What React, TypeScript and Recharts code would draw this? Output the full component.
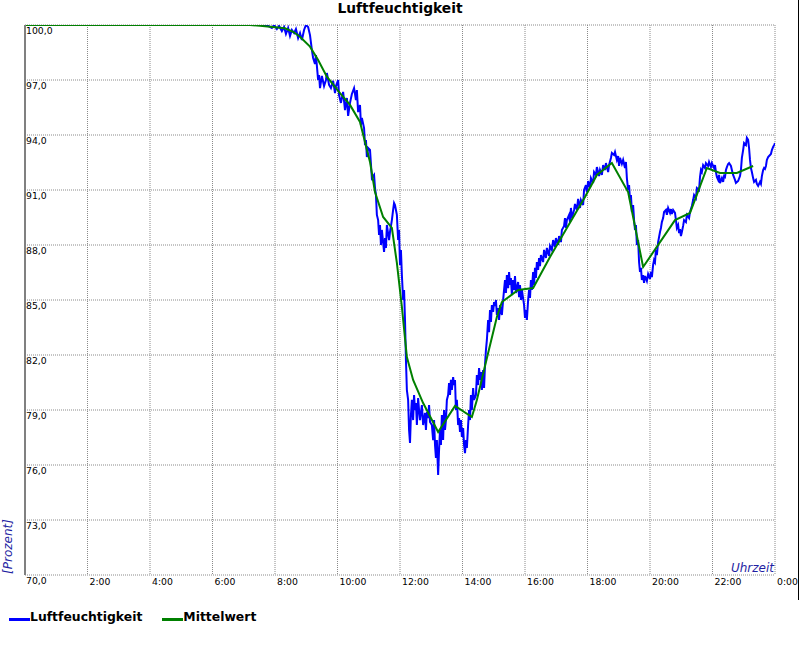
import { LineChart, Line, XAxis, YAxis, CartesianGrid, Legend, Label } from 'recharts';

// Stunden-Ticks der Zeitachse und Prozent-Ticks der Werteachse
const stundenTicks = [0, 2, 4, 6, 8, 10, 12, 14, 16, 18, 20, 22, 24];
const prozentTicks = [70, 73, 76, 79, 82, 85, 88, 91, 94, 97, 100];

// Messwerte Luftfeuchtigkeit: [Stunde, Prozent]
const luftfeuchtigkeit: [number, number][] = [
  [0, 100], [7.2, 100], [7.58, 100], [7.78, 99.95], [7.9, 99.84], [7.97, 100], [8.06, 99.78], [8.13, 99.95],
  [8.22, 99.67], [8.29, 99.89], [8.35, 99.51], [8.42, 99.84], [8.48, 99.4], [8.54, 99.73], [8.61, 99.56],
  [8.67, 99.78], [8.74, 99.29], [8.8, 99.56], [8.86, 99.18], [8.93, 99.73], [8.99, 100], [9.06, 99.89],
  [9.12, 99.45], [9.18, 98.64], [9.22, 98.2], [9.28, 97.87], [9.31, 98.36], [9.38, 97.0], [9.41, 97.27],
  [9.44, 96.56], [9.5, 97.22], [9.57, 96.67], [9.63, 97.0], [9.66, 97.38], [9.73, 96.73], [9.79, 96.56],
  [9.86, 96.95], [9.92, 96.29], [9.95, 96.67], [10.02, 97.0], [10.05, 96.18], [10.11, 95.75], [10.18, 96.35],
  [10.24, 95.36], [10.3, 96.02], [10.34, 95.04], [10.4, 95.75], [10.46, 96.24], [10.53, 96.56], [10.59, 95.91],
  [10.62, 96.45], [10.66, 95.25], [10.72, 95.64], [10.75, 94.55], [10.78, 94.93], [10.85, 94.38], [10.88, 93.45],
  [10.91, 93.73], [10.94, 92.8], [10.98, 93.29], [11.04, 93.18], [11.1, 91.65], [11.17, 91.82], [11.2, 91.11],
  [11.23, 90.73], [11.26, 89.64], [11.3, 89.36], [11.33, 88.55], [11.36, 89.09], [11.39, 88.0], [11.42, 88.82],
  [11.49, 87.62], [11.52, 88.38], [11.55, 87.84], [11.58, 89.09], [11.65, 88.27], [11.68, 88.71], [11.74, 89.36],
  [11.78, 89.91], [11.81, 90.29], [11.84, 90.18], [11.9, 89.64], [11.94, 88.27], [11.97, 88.82], [12.0, 86.91],
  [12.03, 87.73], [12.06, 86.36], [12.1, 85.0], [12.13, 85.55], [12.16, 83.91], [12.19, 81.73], [12.22, 80.09],
  [12.26, 79.55], [12.29, 77.91], [12.32, 77.2], [12.35, 78.73], [12.38, 79.55], [12.42, 78.45], [12.45, 79.82],
  [12.48, 79.0], [12.51, 79.38], [12.54, 78.18], [12.58, 79.65], [12.61, 79.0], [12.64, 78.45], [12.7, 79.27],
  [12.74, 78.18], [12.8, 78.84], [12.83, 77.91], [12.86, 78.89], [12.9, 78.56], [12.93, 79.27], [12.96, 78.35],
  [13.02, 78.18], [13.06, 77.36], [13.09, 78.45], [13.12, 77.09], [13.15, 76.38], [13.18, 77.36], [13.22, 75.45],
  [13.25, 76.82], [13.28, 77.91], [13.31, 77.09], [13.34, 78.73], [13.38, 77.36], [13.41, 79.0], [13.44, 77.91],
  [13.47, 78.45], [13.5, 79.55], [13.54, 79.82], [13.57, 80.47], [13.6, 79.82], [13.63, 80.64], [13.66, 80.09],
  [13.7, 80.8], [13.73, 80.36], [13.76, 80.64], [13.79, 79.0], [13.82, 79.55], [13.86, 78.18], [13.89, 78.56],
  [13.92, 77.8], [13.95, 78.45], [13.98, 77.53], [14.02, 78.02], [14.05, 77.09], [14.08, 76.65], [14.11, 77.36],
  [14.14, 76.93], [14.18, 78.18], [14.21, 79.0], [14.24, 78.45], [14.27, 79.82], [14.3, 79.0], [14.34, 80.2],
  [14.37, 79.55], [14.43, 79.82], [14.46, 80.91], [14.5, 80.36], [14.53, 81.29], [14.56, 80.64], [14.59, 81.07],
  [14.62, 80.09], [14.66, 81.18], [14.69, 80.2], [14.72, 81.45], [14.75, 82.27], [14.78, 82.82], [14.82, 83.91],
  [14.85, 83.25], [14.88, 84.45], [14.91, 83.8], [14.94, 84.73], [14.98, 84.35], [15.01, 84.89], [15.04, 84.67],
  [15.07, 85.0], [15.1, 84.18], [15.14, 84.56], [15.17, 83.91], [15.2, 84.73], [15.26, 84.18], [15.3, 85.0],
  [15.33, 85.55], [15.36, 86.09], [15.39, 85.38], [15.42, 86.36], [15.46, 85.65], [15.49, 86.53], [15.52, 85.82],
  [15.55, 86.2], [15.58, 85.27], [15.62, 86.09], [15.65, 85.55], [15.68, 86.31], [15.71, 85.38], [15.78, 85.98],
  [15.81, 85.16], [15.84, 85.82], [15.87, 85.0], [15.9, 85.55], [15.97, 84.73], [16.0, 84.02], [16.03, 84.45],
  [16.06, 83.91], [16.1, 85.0], [16.13, 85.55], [16.16, 85.11], [16.19, 86.09], [16.22, 85.55], [16.26, 86.53],
  [16.29, 85.82], [16.32, 86.75], [16.35, 86.2], [16.38, 87.07], [16.42, 86.64], [16.45, 87.29], [16.48, 86.85],
  [16.51, 87.45], [16.58, 87.07], [16.61, 87.73], [16.67, 87.29], [16.7, 87.84], [16.77, 87.4], [16.8, 87.95],
  [16.86, 87.73], [16.9, 88.27], [16.96, 87.89], [16.99, 88.38], [17.06, 88.0], [17.09, 88.49], [17.15, 88.16],
  [17.18, 88.82], [17.25, 89.04], [17.28, 89.47], [17.31, 88.93], [17.34, 89.36], [17.41, 89.64], [17.44, 89.25],
  [17.47, 90.02], [17.5, 89.47], [17.57, 89.91], [17.6, 90.24], [17.66, 89.91], [17.7, 90.51], [17.76, 90.02],
  [17.79, 90.45], [17.86, 90.18], [17.89, 91.0], [17.95, 91.27], [17.98, 90.89], [18.02, 91.49], [18.08, 91.11],
  [18.11, 91.65], [18.18, 91.38], [18.21, 91.98], [18.27, 91.82], [18.3, 92.25], [18.37, 91.76], [18.4, 92.09],
  [18.46, 91.82], [18.5, 92.36], [18.56, 92.09], [18.59, 92.47], [18.66, 91.98], [18.69, 92.36], [18.75, 92.75],
  [18.78, 93.02], [18.85, 92.91], [18.88, 93.07], [18.94, 92.64], [18.98, 92.85], [19.01, 92.31], [19.04, 92.75],
  [19.1, 92.42], [19.14, 92.64], [19.2, 92.2], [19.23, 92.53], [19.26, 91.65], [19.3, 91.0], [19.33, 91.27],
  [19.36, 90.45], [19.39, 90.73], [19.42, 89.8], [19.46, 90.18], [19.49, 89.36], [19.52, 88.82], [19.55, 89.09],
  [19.58, 88.0], [19.62, 88.27], [19.65, 87.07], [19.68, 86.53], [19.71, 86.75], [19.74, 86.09], [19.78, 86.36],
  [19.81, 85.93], [19.84, 86.31], [19.9, 86.04], [19.94, 86.42], [20.0, 86.15], [20.03, 86.53], [20.06, 86.25],
  [20.1, 86.91], [20.13, 87.18], [20.16, 87.07], [20.19, 87.73], [20.22, 87.45], [20.26, 88.16], [20.32, 88.71],
  [20.35, 88.93], [20.38, 89.25], [20.42, 89.47], [20.45, 89.8], [20.51, 89.91], [20.54, 89.64], [20.58, 90.02],
  [20.64, 89.75], [20.67, 89.96], [20.7, 89.69], [20.74, 89.91], [20.8, 89.75], [20.83, 89.36], [20.86, 88.93],
  [20.9, 89.09], [20.93, 88.65], [20.96, 88.87], [20.99, 88.49], [21.02, 88.71], [21.06, 89.04], [21.09, 89.36],
  [21.15, 89.25], [21.18, 89.64], [21.25, 89.47], [21.28, 89.8], [21.34, 90.13], [21.38, 90.45], [21.41, 90.73],
  [21.47, 90.56], [21.5, 91.11], [21.57, 91.0], [21.6, 91.71], [21.63, 92.09], [21.66, 91.98], [21.7, 92.36],
  [21.76, 92.2], [21.79, 92.47], [21.86, 92.31], [21.89, 92.53], [21.95, 92.25], [21.98, 92.47], [22.05, 92.2],
  [22.08, 92.36], [22.11, 91.98], [22.14, 91.71], [22.18, 91.55], [22.21, 91.82], [22.24, 91.38], [22.3, 91.65],
  [22.34, 91.44], [22.37, 91.76], [22.4, 91.71], [22.43, 92.09], [22.46, 92.25], [22.5, 92.42], [22.53, 92.47],
  [22.59, 92.31], [22.62, 92.09], [22.66, 91.82], [22.72, 91.55], [22.75, 91.38], [22.82, 91.49], [22.88, 91.76],
  [22.91, 92.09], [22.94, 92.75], [22.98, 93.18], [23.01, 93.56], [23.07, 93.45], [23.1, 93.84], [23.14, 93.73],
  [23.17, 93.29], [23.2, 92.64], [23.23, 92.2], [23.26, 91.98], [23.3, 91.65], [23.33, 91.44], [23.39, 91.55],
  [23.42, 91.33], [23.46, 91.22], [23.52, 91.44], [23.55, 91.33], [23.58, 91.76], [23.62, 92.09], [23.65, 92.2],
  [23.68, 92.15], [23.71, 92.31], [23.74, 92.64], [23.78, 92.8], [23.84, 92.91], [23.87, 92.96], [23.9, 93.18],
  [23.94, 93.35], [23.97, 93.45], [24.0, 93.56],
];

// Gleitender Mittelwert: [Stunde, Prozent]
const mittelwert: [number, number][] = [
  [0, 100], [7.2, 100], [7.52, 99.96], [8.32, 99.82], [8.58, 99.63], [8.8, 99.36], [9.12, 98.82], [9.38, 98.09],
  [9.66, 97.18], [10.08, 96.29], [10.4, 95.64], [10.72, 94.71], [11.04, 92.53], [11.2, 90.89], [11.46, 89.53],
  [11.74, 88.93], [11.9, 87.02], [12.06, 84.62], [12.22, 81.89], [12.42, 80.64], [12.74, 79.38], [13.22, 77.8],
  [13.76, 79.22], [14.3, 78.62], [14.46, 79.55], [14.82, 82.11], [15.1, 84.07], [15.26, 84.89], [15.78, 85.55],
  [16.26, 85.65], [16.8, 87.35], [17.34, 88.93], [17.92, 90.62], [18.3, 91.82], [18.78, 92.47], [19.3, 90.89],
  [19.78, 86.8], [20.8, 89.36], [21.28, 89.75], [21.82, 92.2], [22.24, 91.93], [22.78, 91.93], [23.3, 92.31],
];

const feuchteData = luftfeuchtigkeit.map(([h, v]) => ({ h, v }));
const mittelData = mittelwert.map(([h, v]) => ({ h, v }));

const FONT = '"DejaVu Sans", Verdana, sans-serif';
const LABEL_BLUE = '#1f1fa3';

function ProzentTick(props: any) {
  const { y, payload } = props;
  return (
    <text x={26} y={y + 9} fontSize={9.3} fontFamily={FONT} fill="#000">
      {payload.value.toFixed(1).replace('.', ',')}
    </text>
  );
}

function StundenTick(props: any) {
  const { x, y, payload } = props;
  // an der 0-Position steht die Beschriftung "70,0" der Werteachse
  if (payload.value === 0) return <g />;
  return (
    <text x={x + 2} y={y + 10} fontSize={9.3} fontFamily={FONT} fill="#000">
      {`${payload.value % 24}:00`}
    </text>
  );
}

function UhrzeitLabel(props: any) {
  const vb = props.viewBox;
  return (
    <text x={vb.x + vb.width - 1} y={vb.y - 3} textAnchor="end" fontSize={12} fontStyle="italic" fontFamily={FONT} fill={LABEL_BLUE}>
      Uhrzeit
    </text>
  );
}

function ProzentLabel(props: any) {
  const vb = props.viewBox;
  return (
    <text transform={`translate(12, ${vb.y + vb.height - 28.5}) rotate(-90)`} textAnchor="middle" fontSize={12} fontStyle="italic" fontFamily={FONT} fill={LABEL_BLUE}>
      [Prozent]
    </text>
  );
}

function LegendContent(props: any) {
  const { payload } = props;
  return (
    <div style={{ display: 'flex', fontFamily: FONT, fontWeight: 'bold', fontSize: 12.4, color: '#000' }}>
      {payload.map((e: any) => (
        <span key={e.value} style={{ display: 'inline-flex', alignItems: 'baseline', marginRight: 20 }}>
          <span style={{ display: 'inline-block', width: 21, height: 3, background: e.color }} />
          <span>{e.value}</span>
        </span>
      ))}
    </div>
  );
}

export default function App() {
  return (
    <div style={{ position: 'absolute', left: 0, top: 0, width: 800, height: 650, background: '#fff' }}>
      <div style={{ position: 'absolute', left: 0, top: 0, width: 800, textAlign: 'center', fontFamily: FONT, fontWeight: 'bold', fontSize: 13.8, zIndex: 2 }}>
        Luftfeuchtigkeit
      </div>
      <LineChart width={800} height={650} margin={{ top: 25, right: 25, left: 24, bottom: 74 }}>
        <CartesianGrid stroke="#8a8a8a" strokeDasharray="1 1" />
        <XAxis
          dataKey="h"
          type="number"
          domain={[0, 24]}
          ticks={stundenTicks}
          height={1}
          tickSize={0}
          tickMargin={0}
          tickLine={false}
          axisLine={false}
          tick={StundenTick}
          interval={0}
          allowDataOverflow
          label={<Label content={UhrzeitLabel} />}
        />
        <YAxis
          type="number"
          domain={[70, 100]}
          ticks={prozentTicks}
          width={1}
          tickSize={0}
          tickMargin={0}
          tickLine={false}
          axisLine={{ stroke: '#808080', strokeWidth: 2 }}
          tick={ProzentTick}
          interval={0}
          allowDataOverflow
          label={<Label content={ProzentLabel} />}
        />
        <Line
          data={feuchteData}
          dataKey="v"
          name="Luftfeuchtigkeit"
          type="linear"
          stroke="#0000ff"
          strokeWidth={2}
          dot={false}
          activeDot={false}
          isAnimationActive={false}
        />
        <Line
          data={mittelData}
          dataKey="v"
          name="Mittelwert"
          type="linear"
          stroke="#008000"
          strokeWidth={2}
          dot={false}
          activeDot={false}
          isAnimationActive={false}
        />
        <Legend
          layout="horizontal"
          verticalAlign="middle"
          align="center"
          content={LegendContent}
          wrapperStyle={{ left: 9, top: 609, width: 'auto' }}
        />
      </LineChart>
      <div style={{ position: 'absolute', left: 798, top: 0, width: 1, height: 600, background: '#000', zIndex: 2 }} />
    </div>
  );
}
